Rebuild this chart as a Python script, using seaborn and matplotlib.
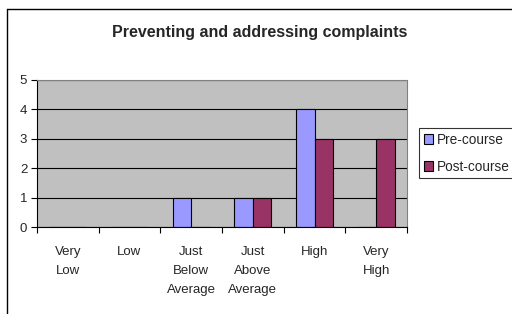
import numpy as np
import pandas as pd
import matplotlib
matplotlib.use("Agg")
import matplotlib.pyplot as plt
import seaborn as sns

# data
categories = ["Very\nLow", "Low", "Just\nBelow\nAverage", "Just\nAbove\nAverage", "High", "Very\nHigh"]
pre_course = [0, 0, 1, 1, 4, 0]
post_course = [0, 0, 0, 1, 3, 3]
series_names = ["Pre-course", "Post-course"]
series_colors = ["#9999FF", "#993366"]

df = pd.DataFrame({
    "category": categories * 2,
    "value": pre_course + post_course,
    "series": [series_names[0]] * len(categories) + [series_names[1]] * len(categories),
})

sns.set_style("white")
plt.rcParams["font.family"] = ["Liberation Sans", "DejaVu Sans"]

fig = plt.figure(figsize=(5.12, 3.14), dpi=100)
W, H = 512, 314
# plot area in pixels: x 37..407, y 80..227
ax = fig.add_axes([37 / W, 1 - 227 / H, (407 - 37) / W, (227 - 80) / H])

sns.barplot(data=df, x="category", y="value", hue="series", order=categories,
            hue_order=series_names, palette=series_colors, width=0.6, gap=0,
            edgecolor="black", linewidth=0.8, saturation=1, ax=ax, legend=False)

ax.set_facecolor("#C0C0C0")
ax.set_ylim(0, 5)
ax.set_xlim(-0.5, len(categories) - 0.5)
ax.set_yticks(range(6))
ax.yaxis.grid(True, color="black", linewidth=0.8)
ax.set_axisbelow(True)
for s in ["top", "right"]:
    ax.spines[s].set_color("#808080")
    ax.spines[s].set_linewidth(0.8)
ax.spines["left"].set_color("black")
ax.spines["bottom"].set_color("black")
ax.set_xlabel("")
ax.set_ylabel("")

# category boundary ticks like the spreadsheet style
ax.set_xticks(np.arange(-0.5, len(categories), 1.0), minor=False)
ax.set_xticklabels([])
ax.set_xticks(np.arange(len(categories)), minor=True)
ax.set_xticklabels(categories, minor=True, fontsize=9.5, linespacing=1.75, va="top")
ax.tick_params(axis="x", which="major", length=4, color="black", direction="out")
ax.tick_params(axis="x", which="minor", length=0, pad=14)
ax.tick_params(axis="y", length=4, color="black", direction="out", labelsize=9.5, pad=3)
ax.tick_params(left=True, bottom=True)

fig.text(260 / W, 1 - 32 / H, "Preventing and addressing complaints",
         ha="center", va="center", fontsize=11.5, fontweight="bold")

handles = [plt.Rectangle((0, 0), 1, 1, facecolor=c, edgecolor="black", linewidth=0.8)
           for c in series_colors]
leg = fig.legend(handles, series_names, loc="upper left",
                 bbox_to_anchor=(419 / W, 1 - 128 / H), fontsize=9.8, frameon=True,
                 fancybox=False, edgecolor="black", handlelength=0.7, handleheight=0.7,
                 handletextpad=0.3, borderpad=0.35, labelspacing=0.95, borderaxespad=0)
leg.get_frame().set_linewidth(0.8)

# outer chart border (left and top visible)
fig.add_artist(plt.Line2D([7 / W, 7 / W], [0, 1 - 9 / H], color="black", linewidth=1,
                          transform=fig.transFigure))
fig.add_artist(plt.Line2D([7 / W, 1], [1 - 9 / H, 1 - 9 / H], color="black", linewidth=1,
                          transform=fig.transFigure))

fig.savefig("out.png", dpi=100)
